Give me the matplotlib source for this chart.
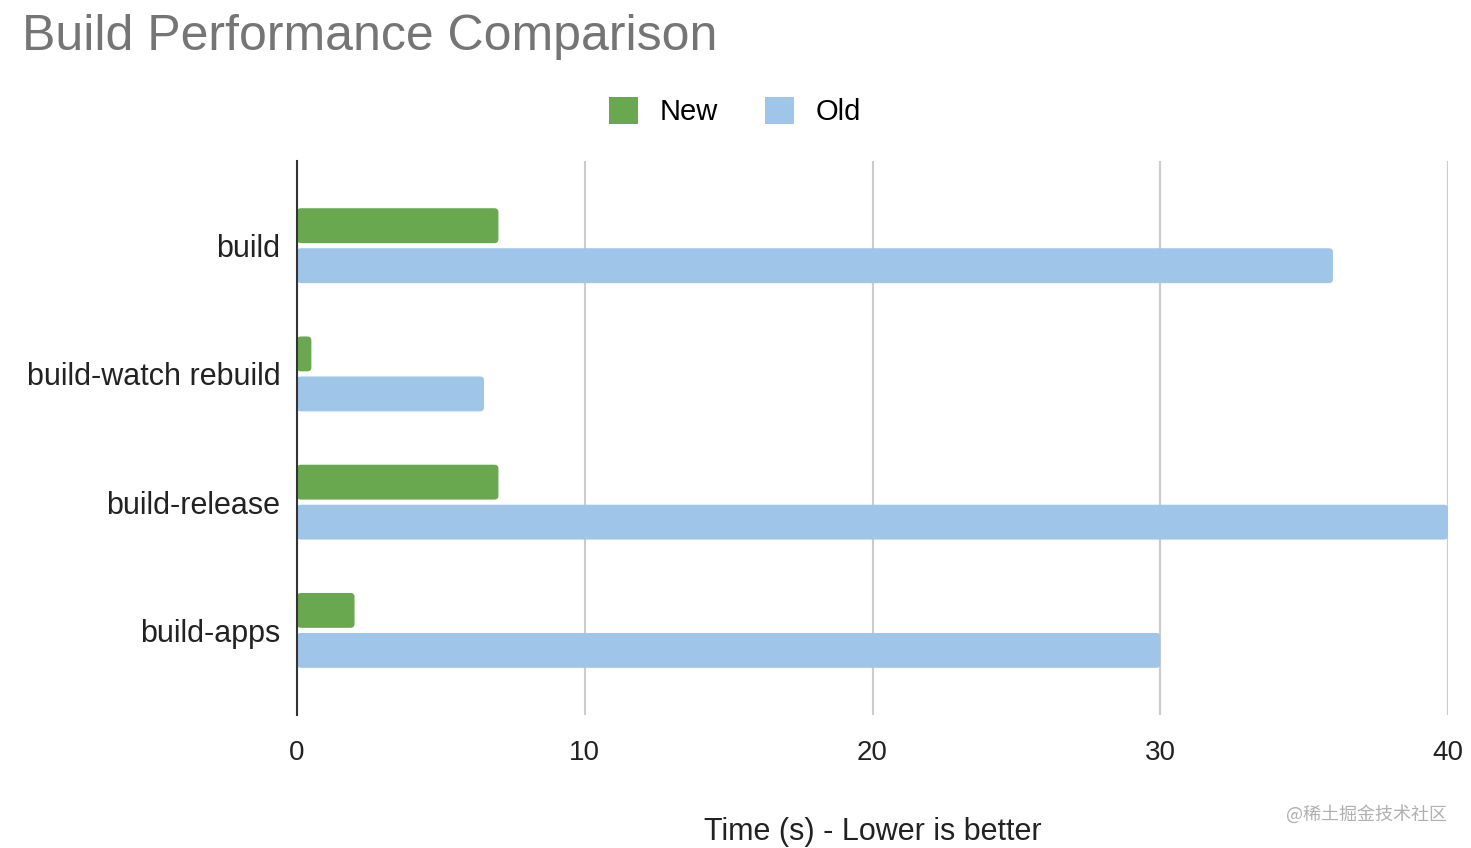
import matplotlib
matplotlib.use("Agg")
import matplotlib.pyplot as plt
import numpy as np
from matplotlib.patches import Patch, FancyBboxPatch

categories = ["build", "build-watch rebuild", "build-release", "build-apps"]
new_times = [7, 0.5, 7, 2]
old_times = [36, 6.5, 40, 30]
x_ticks = [0, 10, 20, 30, 40]

GREEN = "#6aa84f"
BLUE = "#9fc5e8"

plt.rcParams["font.family"] = ["Liberation Sans", "DejaVu Sans"]

fig = plt.figure(figsize=(14.71, 8.48), dpi=100)
ax = fig.add_axes([0.2019, 0.1568, 0.7825, 0.6533])

y = np.arange(len(categories))
h = 0.272
off = 0.156
bars_new = ax.barh(y - off, new_times, height=h, color=GREEN, zorder=3)
bars_old = ax.barh(y + off, old_times, height=h, color=BLUE, zorder=3)

# swap the plain rectangles for slightly rounded ones
for bars in (bars_new, bars_old):
    for rect in bars:
        x0, y0 = rect.get_x(), rect.get_y()
        w, hh = rect.get_width(), rect.get_height()
        fb = FancyBboxPatch((x0, y0), w, hh, boxstyle="round,pad=0,rounding_size=0.14",
                            mutation_aspect=0.22, facecolor=rect.get_facecolor(),
                            edgecolor="none", zorder=3)
        rect.set_visible(False)
        ax.add_patch(fb)

ax.set_xlim(0, 40)
ax.set_ylim(3.66, -0.66)
ax.set_xticks(x_ticks)
ax.set_xticklabels([str(t) for t in x_ticks], fontsize=20, color="#222222")
ax.set_yticks(y)
ax.set_yticklabels(categories, fontsize=22, color="#222222")
ax.tick_params(axis="both", length=0)
ax.tick_params(axis="x", pad=18)
ax.tick_params(axis="y", pad=12)
ax.grid(axis="x", color="#cccccc", linewidth=1.5, zorder=0)

for side in ["top", "right", "bottom"]:
    ax.spines[side].set_visible(False)
ax.spines["left"].set_color("#333333")
ax.spines["left"].set_linewidth(1.5)
ax.spines["left"].set_zorder(4)

fig.text(0.5932, 0.019, "Time (s) - Lower is better", fontsize=22, color="#222222",
         ha="center", va="center")

fig.text(0.015, 0.956, "Build Performance Comparison", fontsize=36, color="#757575",
         ha="left", va="center")

handles = [Patch(facecolor=GREEN, label="New"), Patch(facecolor=BLUE, label="Old")]
fig.legend(handles=handles, loc="center", bbox_to_anchor=(0.4997, 0.868), ncol=2,
           frameon=False, fontsize=21, handlelength=1.0, handleheight=1.0,
           columnspacing=1.6, handletextpad=0.75)

fig.text(0.984, 0.04, "@稀土掘金技术社区", fontsize=13, color="#b0b0b0",
         ha="right", va="center", family=["Noto Sans CJK SC", "DejaVu Sans"])

fig.savefig("out.png", dpi=100)
